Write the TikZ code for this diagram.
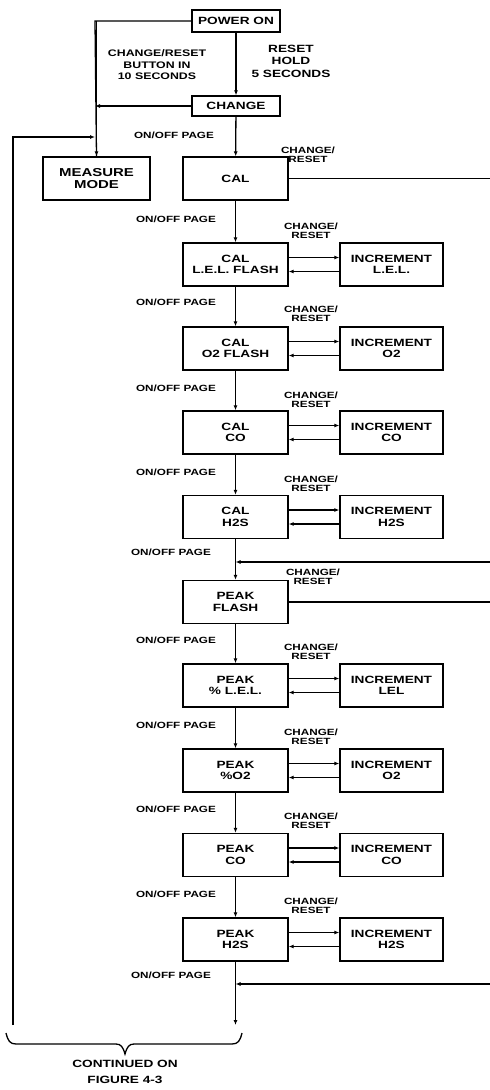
\documentclass[tikz,border=0pt]{standalone}
\usepackage{fontspec}
\setmainfont[FakeStretch=1.3]{Liberation Sans}
\usetikzlibrary{arrows.meta}
\begin{document}
\begin{tikzpicture}[x=1pt,y=-1pt,
  line width=1.3pt,
  box/.style={draw, rectangle, align=center, font=\bfseries\fontsize{10.5}{11.5}\selectfont, inner sep=1pt},
  mainbox/.style={box, minimum width=105pt, minimum height=43pt},
  incbox/.style={box, minimum width=103pt, minimum height=43pt},
  lbl/.style={font=\bfseries\fontsize{9}{9}\selectfont, align=center, inner sep=0pt},
  arr/.style={-{Latex[length=5pt,width=4pt]}}]
\useasboundingbox (0,0) rectangle (490,1090);

% top
\node[box, minimum width=88pt, minimum height=22pt] (pwr) at (236,21) {POWER ON};
\node[box, minimum width=88pt, minimum height=20pt] (chg) at (236,106) {CHANGE};
\node[box, minimum width=107pt, minimum height=43pt, font=\bfseries\fontsize{11.5}{12.5}\selectfont] (meas) at (96.5,178.5) {MEASURE\\MODE};
\node[lbl, font=\bfseries\fontsize{9.5}{11.5}\selectfont] (l1) at (157,65) {CHANGE/RESET\\BUTTON IN\\10 SECONDS};
\node[lbl, font=\bfseries\fontsize{10.5}{12.5}\selectfont] (l2) at (291,61) {RESET\\HOLD\\5 SECONDS};

% main column
\node[mainbox] (m1) at (235.5,178.5) {CAL};
\node[mainbox] (m2) at (235.5,264.5) {CAL\\L.E.L. FLASH};
\node[mainbox] (m3) at (235.5,348.5) {CAL\\O2 FLASH};
\node[mainbox] (m4) at (235.5,432.5) {CAL\\CO};
\node[mainbox] (m5) at (235.5,517) {CAL\\H2S};
\node[mainbox] (m6) at (235.5,602) {PEAK\\FLASH};
\node[mainbox] (m7) at (235.5,685.5) {PEAK\\\% L.E.L.};
\node[mainbox] (m8) at (235.5,770.5) {PEAK\\\%O2};
\node[mainbox] (m9) at (235.5,855) {PEAK\\CO};
\node[mainbox] (m10) at (235.5,939.5) {PEAK\\H2S};

% increment column
\node[incbox] (i2) at (391.5,264.5) {INCREMENT\\L.E.L.};
\node[incbox] (i3) at (391.5,348.5) {INCREMENT\\O2};
\node[incbox] (i4) at (391.5,432.5) {INCREMENT\\CO};
\node[incbox] (i5) at (391.5,517) {INCREMENT\\H2S};
\node[incbox] (i7) at (391.5,685.5) {INCREMENT\\LEL};
\node[incbox] (i8) at (391.5,770.5) {INCREMENT\\O2};
\node[incbox] (i9) at (391.5,855) {INCREMENT\\CO};
\node[incbox] (i10) at (391.5,939.5) {INCREMENT\\H2S};

% ON/OFF PAGE labels
\node[lbl] (o1) at (174,135) {ON/OFF PAGE};
\node[lbl] (o2) at (176,219) {ON/OFF PAGE};
\node[lbl] (o3) at (176,302) {ON/OFF PAGE};
\node[lbl] (o4) at (176,388) {ON/OFF PAGE};
\node[lbl] (o5) at (176,472) {ON/OFF PAGE};
\node[lbl] (o6) at (171,552) {ON/OFF PAGE};
\node[lbl] (o7) at (176,640) {ON/OFF PAGE};
\node[lbl] (o8) at (176,725) {ON/OFF PAGE};
\node[lbl] (o9) at (176,809) {ON/OFF PAGE};
\node[lbl] (o10) at (176,894) {ON/OFF PAGE};
\node[lbl] (o11) at (171,975) {ON/OFF PAGE};

% CHANGE/RESET labels
\node[lbl] (c1) at (308,155) {CHANGE/\\RESET};
\node[lbl] (c2) at (311,231) {CHANGE/\\RESET};
\node[lbl] (c3) at (311,314) {CHANGE/\\RESET};
\node[lbl] (c4) at (311,400) {CHANGE/\\RESET};
\node[lbl] (c5) at (311,484) {CHANGE/\\RESET};
\node[lbl] (c6) at (313,577) {CHANGE/\\RESET};
\node[lbl] (c7) at (311,652) {CHANGE/\\RESET};
\node[lbl] (c8) at (311,737) {CHANGE/\\RESET};
\node[lbl] (c9) at (311,821) {CHANGE/\\RESET};
\node[lbl] (c10) at (311,906) {CHANGE/\\RESET};

% coordinates
\coordinate (jtop) at (95,21);
\coordinate (jchg) at (95,106);
\coordinate (jleft) at (95,137);
\coordinate (ltop) at (13,137);
\coordinate (lbot) at (13,1025);
\coordinate (r1) at (490,178.5);
\coordinate (r5) at (490,562);
\coordinate (j5) at (235.5,562);
\coordinate (r6) at (490,602);
\coordinate (r10) at (490,984);
\coordinate (j10) at (235.5,984);
\coordinate (bot) at (235.5,1025);

% top connectors
\draw[arr] (pwr) -- (chg);
\draw (pwr.west) -- (jtop) -- (meas.north);
\draw[arr] (meas.north |- jtop) -- (meas.north);
\draw[arr] (chg.west) -- (jchg);
\draw[arr] (lbot) -- (ltop) -- (jleft);
\draw[arr] (chg) -- (m1);

% main chain
\draw[arr] (m1) -- (m2);
\draw[arr] (m2) -- (m3);
\draw[arr] (m3) -- (m4);
\draw[arr] (m4) -- (m5);
\draw[arr] (m5) -- (m6);
\draw[arr] (m6) -- (m7);
\draw[arr] (m7) -- (m8);
\draw[arr] (m8) -- (m9);
\draw[arr] (m9) -- (m10);
\draw[arr] (m10) -- (bot);

% side lines
\draw (m1.east |- r1) -- (r1);
\draw[arr] (r5) -- (j5);
\draw (m6.east |- r6) -- (r6);
\draw[arr] (r10) -- (j10);

% increment arrows
\foreach \k in {2,3,4,5,7,8,9,10}{
  \draw[arr] ([yshift=7pt]m\k.east) -- ([yshift=7pt]i\k.west);
  \draw[arr] ([yshift=-7pt]i\k.west) -- ([yshift=-7pt]m\k.east);
}

% brace
\draw (6,1033) .. controls (8,1041) and (10,1044) .. (16,1044) -- (116,1044)
  .. controls (121,1044) and (123,1047) .. (125,1054)
  .. controls (127,1047) and (129,1044) .. (134,1044) -- (232,1044)
  .. controls (238,1044) and (240,1041) .. (242,1033);
\node[lbl, font=\bfseries\fontsize{10.5}{16}\selectfont] (cont) at (125,1072) {CONTINUED ON\\FIGURE 4-3};
\end{tikzpicture}
\end{document}
